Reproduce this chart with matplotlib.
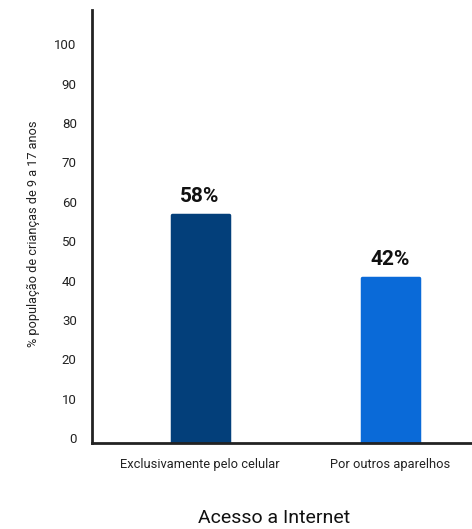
import matplotlib
matplotlib.use("Agg")
import matplotlib.pyplot as plt
import matplotlib.transforms as mtransforms

categories = ["Exclusivamente pelo celular", "Por outros aparelhos"]
values = [58, 42]
value_labels = ["58%", "42%"]
colors = ["#033f7a", "#0a6ad8"]
yticks = [0, 10, 20, 30, 40, 50, 60, 70, 80, 90, 100]

plt.rcParams['font.family'] = ['Roboto', 'DejaVu Sans']

fig = plt.figure(figsize=(4.72, 5.29), dpi=100)
ax = fig.add_axes([0.195, 0.1626, 0.805, 0.8185])

x = list(range(len(categories)))
bars = ax.bar(x, values, width=0.3, color=colors, zorder=2,
              edgecolor=colors, linewidth=2.5, joinstyle='round')

for xi, v, lab in zip(x, values, value_labels):
    ax.text(xi, v + 2.3, lab, ha='center', va='bottom', fontsize=15,
            fontweight='bold', color='#111111')

ax.set_xlim(-0.568, 1.43)
ax.set_ylim(0, 110)
ax.set_yticks(yticks)
ax.set_yticklabels([str(t) for t in yticks])
ax.set_xticks(x)
ax.set_xticklabels(categories)

ax.tick_params(axis='y', length=0, pad=11, labelsize=9.5, labelcolor='#222222')
ax.tick_params(axis='x', length=0, pad=11, labelsize=9.3, labelcolor='#222222')

offset = mtransforms.ScaledTranslation(0, 5/100, fig.dpi_scale_trans)
for lbl in ax.get_yticklabels():
    lbl.set_transform(lbl.get_transform() + offset)

for s in ['top', 'right']:
    ax.spines[s].set_visible(False)
for s in ['left', 'bottom']:
    ax.spines[s].set_linewidth(2)
    ax.spines[s].set_color('#222222')

ax.set_ylabel("% população de crianças de 9 a 17 anos", fontsize=9.2,
              color='#222222', va='center')
ax.yaxis.set_label_coords(-0.155, 0.483)
ax.set_xlabel("Acesso a Internet", fontsize=14, color='#111111', va='center')
ax.xaxis.set_label_coords(0.478, -0.173)

fig.savefig("out.png", dpi=100)
